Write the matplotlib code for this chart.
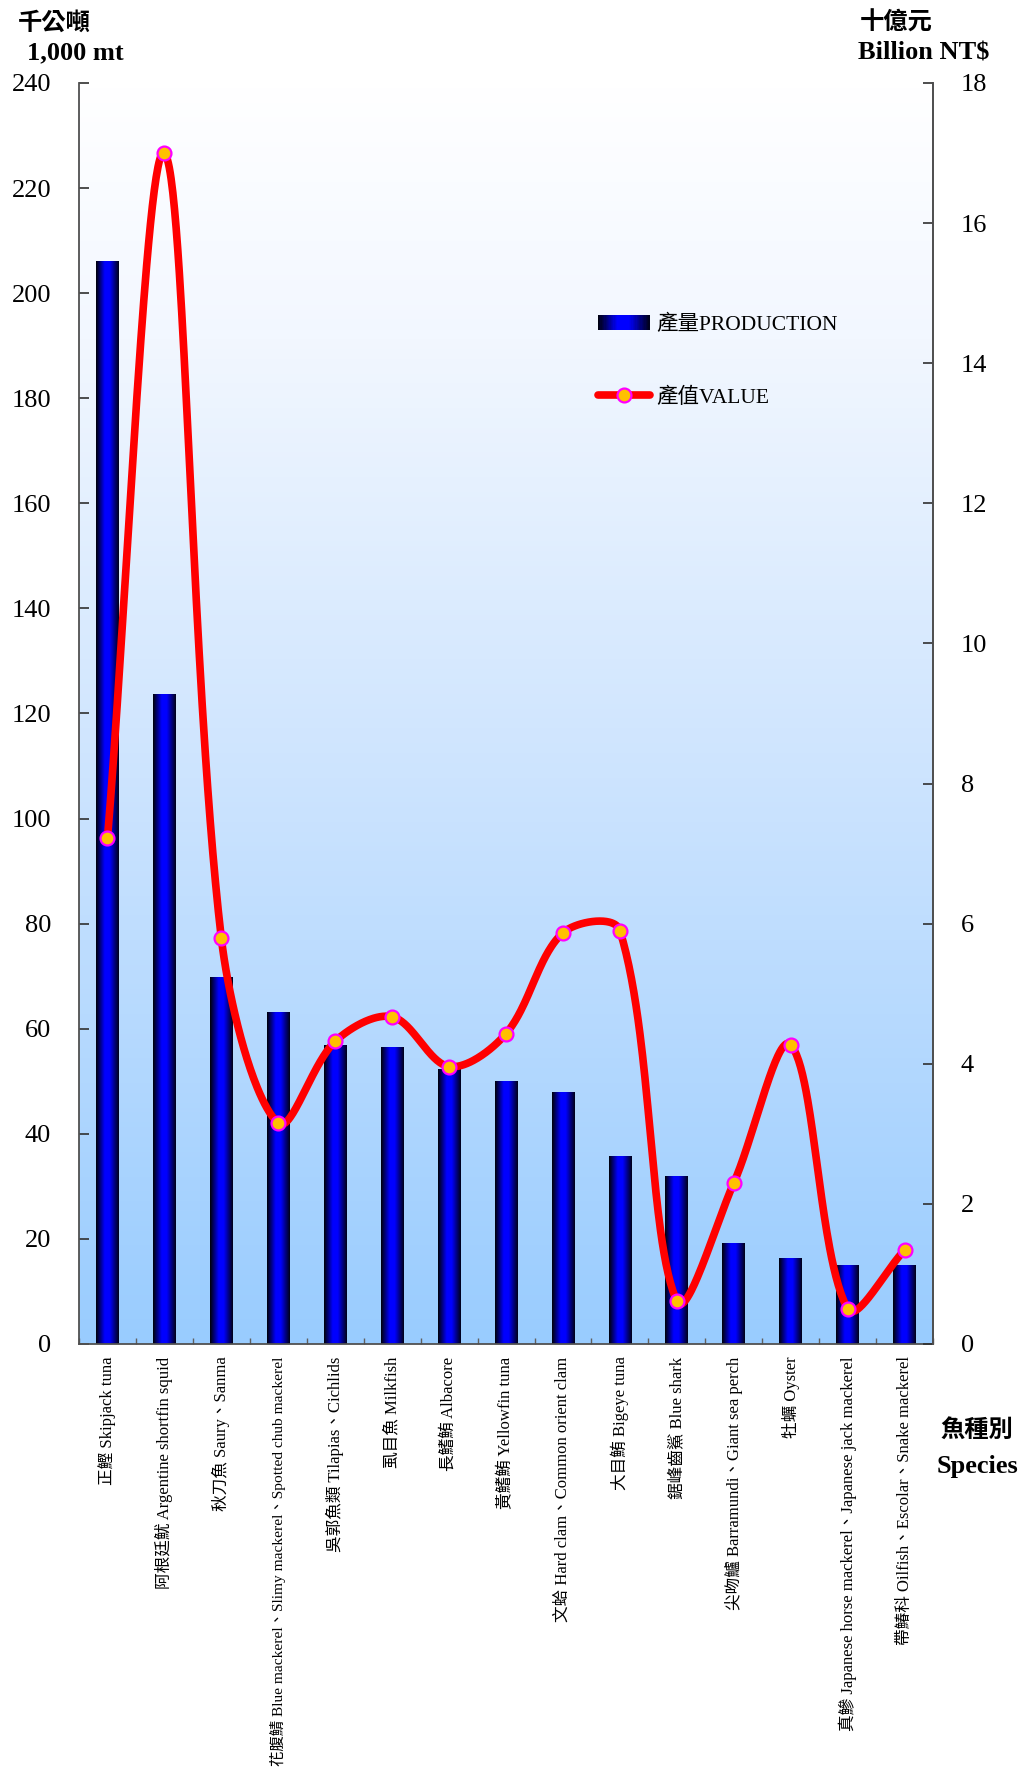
import numpy as np
import matplotlib
matplotlib.use("Agg")
import matplotlib.pyplot as plt
from matplotlib.colors import LinearSegmentedColormap
from matplotlib.patches import Rectangle
from matplotlib.lines import Line2D
from matplotlib.legend_handler import HandlerBase

plt.rcParams['font.family'] = ['Liberation Serif', 'Noto Sans CJK TC']

species = [
    "正鰹 Skipjack tuna",
    "阿根廷魷 Argentine shortfin squid",
    "秋刀魚 Saury、Sanma",
    "花腹鯖 Blue mackerel、Slimy mackerel、Spotted chub mackerel",
    "吳郭魚類 Tilapias、Cichlids",
    "虱目魚 Milkfish",
    "長鰭鮪 Albacore",
    "黃鰭鮪 Yellowfin tuna",
    "文蛤 Hard clam、Common orient clam",
    "大目鮪 Bigeye tuna",
    "鋸峰齒鯊 Blue shark",
    "尖吻鱸 Barramundi、Giant sea perch",
    "牡蠣 Oyster",
    "真鰺 Japanese horse mackerel、Japanese jack mackerel",
    "帶鰆科 Oilfish、Escolar、Snake mackerel",
]
production = [206.0, 123.7, 69.8, 63.1, 56.9, 56.5, 52.2, 50.0, 47.8, 35.6, 31.8, 19.2, 16.3, 14.9, 14.9]
value = [7.22, 17.0, 5.79, 3.15, 4.32, 4.67, 3.96, 4.43, 5.87, 5.90, 0.61, 2.30, 4.27, 0.50, 1.34]
left_ticks = list(range(0, 241, 20))
right_ticks = list(range(0, 19, 2))

fig = plt.figure(figsize=(10.22, 17.77), dpi=100)
ax = fig.add_axes([0.0773, 0.2437, 0.8357, 0.7096])
ax.set_xlim(-0.5, len(species) - 0.5)
ax.set_ylim(0, 240)

# background gradient (white at top -> light blue at bottom)
bg_cmap = LinearSegmentedColormap.from_list("bg", [(0, "#ffffff"), (0.2, "#f2f7ff"), (0.55, "#cde4fe"), (1, "#99ccff")])
grad = np.linspace(0, 1, 256).reshape(-1, 1)
ax.imshow(grad, aspect="auto", cmap=bg_cmap, extent=(0, 1, 0, 1), origin="upper",
          transform=ax.transAxes, zorder=0)
ax.patch.set_visible(False)

# bars with horizontal gradient
bar_cmap = LinearSegmentedColormap.from_list("bar", [(0, "#000008"), (0.38, "#0000ff"), (0.6, "#0000ff"), (1, "#000018")])
x = np.arange(len(species))
bars = ax.bar(x, production, width=0.4, color="none", edgecolor="none", zorder=2)
hgrad = np.linspace(0, 1, 64).reshape(1, -1)
for b in bars:
    x0, w, h = b.get_x(), b.get_width(), b.get_height()
    ax.imshow(hgrad, aspect="auto", cmap=bar_cmap, extent=(x0, x0 + w, 0, h), zorder=2)
ax.set_xlim(-0.5, len(species) - 0.5)
ax.set_ylim(0, 240)

spine_col = "#505050"
ax.spines["top"].set_visible(False)
for s in ["left", "bottom", "right"]:
    ax.spines[s].set_color(spine_col)
    ax.spines[s].set_linewidth(1.3)

ax.set_yticks(left_ticks)
ax.set_yticklabels([str(t) for t in left_ticks], fontsize=19)
ax.tick_params(axis="y", direction="in", length=7, width=1.2, color="#303030", pad=20)
ax.set_xticks(x)
xlabels = ax.set_xticklabels(species, rotation=90, fontsize=12, va="top", ha="center")
# the longest label is slightly smaller so that it stays inside the figure
longest = max(range(len(species)), key=lambda i: len(species[i]))
xlabels[longest].set_fontsize(11.1)
ax.tick_params(axis="x", which="major", length=0, pad=9)
ax.set_xticks(np.arange(len(species) + 1) - 0.5, minor=True)
ax.tick_params(axis="x", which="minor", direction="in", length=4, width=1, color="#606060")

# value line on secondary axis
ax2 = ax.twinx()
ax2.set_ylim(0, 18)
ax2.set_yticks(right_ticks)
ax2.set_yticklabels([str(t) for t in right_ticks], fontsize=19)
ax2.tick_params(axis="y", direction="in", length=7, width=1.2, color="#303030", pad=20)
for s in ["top", "left", "bottom"]:
    ax2.spines[s].set_visible(False)
ax2.spines["right"].set_color(spine_col)
ax2.spines["right"].set_linewidth(1.3)

# Excel-style smoothed curve: Bezier with length-weighted tangents (screen scale)
px = np.array(x, dtype=float)
py = np.array(value, dtype=float)
sx, sy = 57.0, 70.0
n = len(px)
P = np.column_stack([px, py])
S = np.column_stack([px * sx, py * sy])
L = np.hypot(np.diff(S[:, 0]), np.diff(S[:, 1]))
def tangent(i):
    a = P[max(i - 1, 0)]
    b = P[min(i + 1, n - 1)]
    return b - a
cx, cy = [], []
t = np.linspace(0, 1, 60)
for i in range(n - 1):
    p1, p2 = P[i], P[i + 1]
    Lp = L[i - 1] if i > 0 else 0.0
    Ln = L[i]
    c1 = p1 + tangent(i) * (Ln / (Lp + Ln)) / 3.0
    Lp2 = L[i]
    Ln2 = L[i + 1] if i + 1 < n - 1 else 0.0
    c2 = p2 - tangent(i + 1) * (Lp2 / (Lp2 + Ln2)) / 3.0
    seg = ((1 - t) ** 3)[:, None] * p1 + (3 * (1 - t) ** 2 * t)[:, None] * c1 \
        + (3 * (1 - t) * t ** 2)[:, None] * c2 + (t ** 3)[:, None] * p2
    cx.extend(seg[:, 0]); cy.extend(seg[:, 1])
ax2.plot(cx, cy, color="#ff0000", lw=5.5, solid_capstyle="round", zorder=3)
ax2.plot(px, py, linestyle="none", marker="o", markersize=10, markerfacecolor="#ffc000",
         markeredgecolor="#ff00ff", markeredgewidth=1.6, zorder=4)


class GradientHandler(HandlerBase):
    def create_artists(self, legend, orig_handle, xdescent, ydescent, width, height, fontsize, trans):
        arts = []
        m = 40
        for i in range(m):
            c = bar_cmap((i + 0.5) / m)
            r = Rectangle((-xdescent + i * width / m, -ydescent), width / m + 0.3, height,
                          facecolor=c, edgecolor="none", transform=trans)
            arts.append(r)
        return arts


bar_handle = Rectangle((0, 0), 1, 1)
line_handle = Line2D([0], [0], color="#ff0000", lw=5.5, marker="o", markersize=10,
                     markerfacecolor="#ffc000", markeredgecolor="#ff00ff", markeredgewidth=1.6,
                     solid_capstyle="round")
leg = ax2.legend([bar_handle, line_handle], ["產量PRODUCTION", "產值VALUE"],
                 handler_map={Rectangle: GradientHandler()},
                 loc="upper left", bbox_to_anchor=(0.585, 0.823), bbox_transform=fig.transFigure,
                 frameon=False, borderpad=0, borderaxespad=0, fontsize=15.5, handlelength=2.4,
                 handletextpad=0.3, labelspacing=2.45, numpoints=1)

# axis headers
fig.text(0.053, 0.987, "千公噸", fontsize=17.5, fontweight="bold", ha="center", va="center")
fig.text(0.074, 0.970, "1,000 mt", fontsize=19, fontweight="bold", ha="center", va="center")
fig.text(0.877, 0.987, "十億元", fontsize=17.5, fontweight="bold", ha="center", va="center")
fig.text(0.968, 0.970, "Billion NT$", fontsize=19, fontweight="bold", ha="right", va="center")
fig.text(0.956, 0.195, "魚種別", fontsize=17.5, fontweight="bold", ha="center", va="center")
fig.text(0.956, 0.175, "Species", fontsize=19, fontweight="bold", ha="center", va="center")

fig.savefig("out.png", dpi=100)
